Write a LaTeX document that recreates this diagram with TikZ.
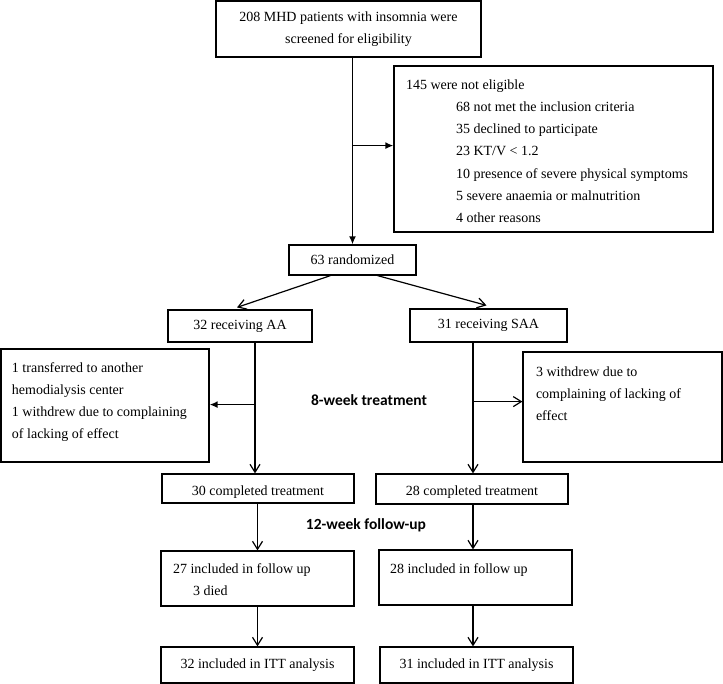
\documentclass[tikz,border=0pt]{standalone}
\usepackage{fontspec}
\setmainfont{Liberation Serif}
\newfontfamily\phasefamily{Carlito}
\usetikzlibrary{arrows.meta,calc}

\newcommand{\boxfont}{\rmfamily\fontsize{14}{22.2}\selectfont}
\newcommand{\phasefont}{\phasefamily\fontsize{15.5}{18}\selectfont\bfseries}
\newcommand{\toplines}[3]{\parbox[c][#2][t]{#1}{\raggedright #3}}

\begin{document}
\begin{tikzpicture}[x=1pt,y=-1pt,>={Latex[length=8pt,width=7pt]}, every node/.style={font=\boxfont}]
\tikzstyle{box}=[draw,line width=1.2pt,inner sep=0pt,align=center]
\tikzstyle{lowtext}=[text height=16.5pt,text depth=3pt]
\tikzstyle{flow}=[line width=1.2pt,-{Straight Barb[length=8pt,width=10pt]}]
\tikzstyle{main}=[line width=1.8pt,->]
\tikzstyle{phase}=[font=\phasefont]
\useasboundingbox (0,0) rectangle (723,684);
% enrolment
\node[box,minimum width=265pt,minimum height=56pt] (screen) at (348.5,29) {208 MHD patients with insomnia were\\screened for eligibility};
\node[box,minimum width=319pt,minimum height=166pt] (excl) at (553.5,149) {\toplines{295pt}{139pt}{145 were not eligible\\
\hspace*{50pt}68 not met the inclusion criteria\\
\hspace*{50pt}35 declined to participate\\
\hspace*{50pt}23 KT/V < 1.2\\
\hspace*{50pt}10 presence of severe physical symptoms\\
\hspace*{50pt}5 severe anaemia or malnutrition\\
\hspace*{50pt}4 other reasons}};
\node[box,minimum width=127pt,minimum height=30pt] (rand) at (352.5,260) {63 randomized};
% allocation
\node[box,minimum width=144pt,minimum height=32pt] (aa) at (240,326) {32 receiving AA};
\node[box,minimum width=157pt,minimum height=33pt] (saa) at (488.5,325.5) {31 receiving SAA};
\node[box,minimum width=208pt,minimum height=113pt] (lostaa) at (105,405.5) {\toplines{186pt}{86pt}{1 transferred to another\\hemodialysis center\\1 withdrew due to complaining\\of lacking of effect}};
\node[box,minimum width=199pt,minimum height=110pt] (lostsaa) at (622.5,407) {\toplines{173pt}{81pt}{3 withdrew due to\\complaining of lacking of\\effect}};
\node[phase] (wk8) at (369,400) {8-week treatment};
% treatment and follow-up
\node[box,lowtext,minimum width=192pt,minimum height=29pt] (doneaa) at (258,488.5) {30 completed treatment};
\node[box,lowtext,minimum width=192pt,minimum height=30pt] (donesaa) at (472,489) {28 completed treatment};
\node[phase] (wk12) at (366,525) {12-week follow-up};
\node[box,minimum width=193pt,minimum height=55pt] (followaa) at (257.5,578.5) {\toplines{169pt}{30pt}{27 included in follow up\\\hspace*{20pt}3 died}};
\node[box,minimum width=193pt,minimum height=55pt] (followsaa) at (475.5,577.5) {\toplines{171pt}{28pt}{28 included in follow up}};
% analysis
\node[box,minimum width=193pt,minimum height=36pt] (ittaa) at (257.5,665) {32 included in ITT analysis};
\node[box,minimum width=193pt,minimum height=36pt] (ittsaa) at (476.5,665) {31 included in ITT analysis};
% connectors
\coordinate (splitex) at ($(screen.south)+(3.5,88)$);
\draw[main] (screen.south -| rand.north) -- (rand.north);
\draw[main] (splitex) -- (splitex -| excl.west);
\draw[flow] ([xshift=-22pt]rand.south) -- ([xshift=-3pt,yshift=2pt]aa.north);
\draw[flow] ([xshift=25pt]rand.south) -- ([xshift=-2pt,yshift=3pt]saa.north);
\coordinate (splitaa) at ([xshift=15pt,yshift=-62pt]aa.south);
\coordinate (splitsaa) at ([xshift=-15.5pt,yshift=-59pt]saa.south);
\draw[flow] ([xshift=15pt]aa.south) -- ([xshift=15pt]aa.south |- doneaa.north);
\draw[main] (splitaa) -- (splitaa -| lostaa.east);
\draw[flow] ([xshift=-15.5pt]saa.south) -- ([xshift=-15.5pt]saa.south |- donesaa.north);
\draw[flow] (splitsaa) -- (splitsaa -| lostsaa.west);
\draw[flow] (doneaa.south -| followaa.north) -- (followaa.north);
\draw[flow] ([xshift=1pt]donesaa.south) -- ([xshift=1pt]donesaa.south |- followsaa.north);
\draw[flow] (followaa.south) -- (ittaa.north);
\draw[flow] ([xshift=-2.5pt]followsaa.south) -- ([xshift=-2.5pt]followsaa.south |- ittsaa.north);
\end{tikzpicture}
\end{document}
